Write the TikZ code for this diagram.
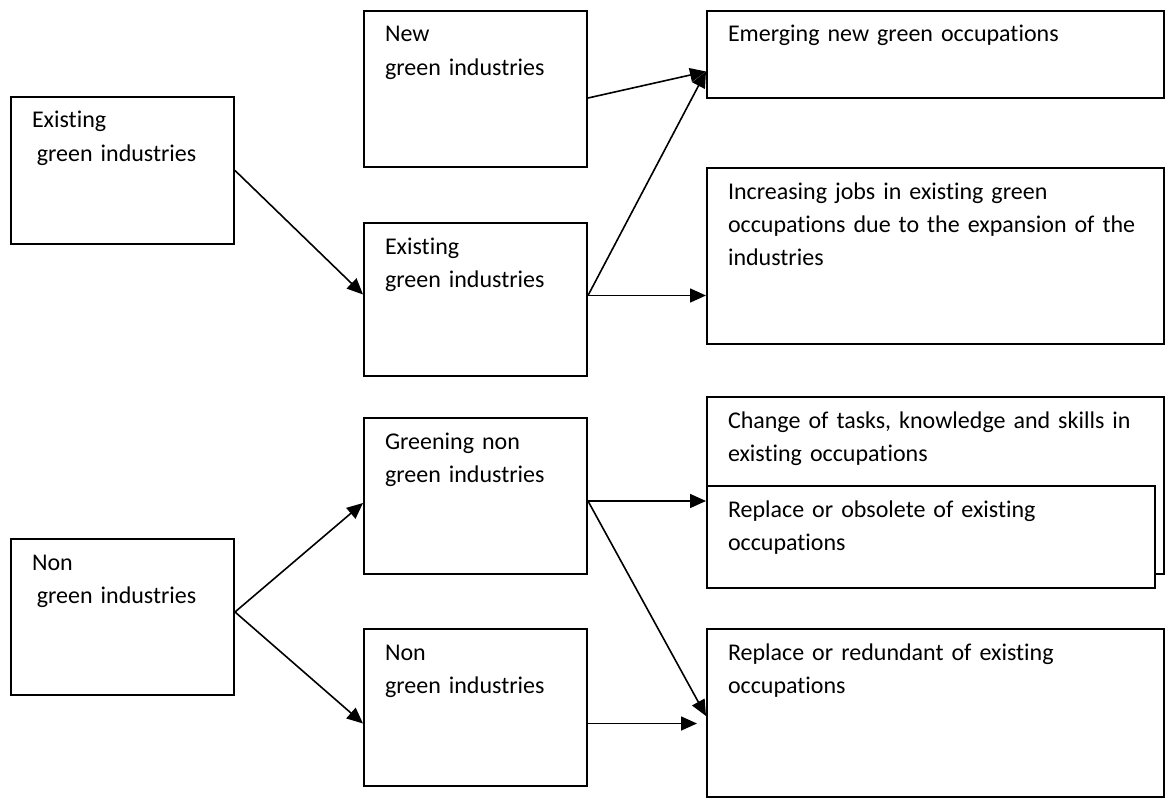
\documentclass[tikz,border=0pt]{standalone}
\usepackage{fontspec}
\setmainfont{Carlito}[Ligatures={NoCommon,NoRequired,NoContextual}, WordSpace=0.85]
\usetikzlibrary{arrows.meta}
\tikzset{>={Triangle[length=16pt,width=14pt]}}
\tikzset{box/.style={draw, line width=2pt, fill=white, anchor=north west, inner xsep=21pt, inner ysep=0pt, align=left, text height=31pt, font=\fontsize{24}{33}\selectfont}}

\begin{document}
\begin{tikzpicture}[x=1pt, y=-1pt]
    \useasboundingbox (0,0) rectangle (1165,800);
    \node[box, text width=181pt, text depth=116pt] (exgreen) at (10,96) {Existing\\\hspace*{0.2em}green industries};
    \node[box, text width=181pt, text depth=125pt] (newind) at (363,10) {New\\green industries};
    \node[box, text width=181pt, text depth=122pt] (exind) at (363,222) {Existing\\green industries};
    \node[box, text width=415pt, text depth=56pt] (emerging) at (706,10) {Emerging new green occupations};
    \node[box, text width=415pt, text depth=145pt] (increasing) at (706,167) {Increasing jobs in existing green\\occupations due to the expansion of the\\industries};
    \node[box, text width=181pt, text depth=125pt] (nongreen) at (10,538) {Non\\\hspace*{0.2em}green industries};
    \node[box, text width=181pt, text depth=125pt] (greening) at (363,417) {Greening non\\green industries};
    \node[box, text width=181pt, text depth=126pt] (nonind) at (363,628) {Non\\green industries};
    \node[box, text width=415pt, text depth=146pt] (changetasks) at (706,396) {Change of tasks, knowledge and skills in\\existing occupations};
    \node[box, text width=406pt, text depth=71pt] (obsolete) at (706,485) {Replace or obsolete of existing\\occupations};
    \node[box, text width=415pt, text depth=137pt] (redundant) at (706,628) {Replace or redundant of existing\\occupations};

    \coordinate (emin) at ([yshift=-17pt]emerging.west);
    \coordinate (exout) at ([yshift=4pt]exind.east);
    \coordinate (grout) at ([yshift=-5pt]greening.east);
    \coordinate (nonout) at ([yshift=-16pt]nonind.east);

    \draw[line width=1.6pt, ->] (exgreen.east) -- ([yshift=5pt]exind.west);
    \draw[line width=1.6pt, ->] ([yshift=-9pt]newind.east) -- (emin);
    \draw[line width=1.6pt, ->] (exout) -- (emin);
    \draw[line width=1.6pt, ->] (exout) -- (exout -| increasing.west);
    \draw[line width=1.6pt, ->] ([yshift=5pt]nongreen.east) -- ([yshift=-7pt]greening.west);
    \draw[line width=1.6pt, ->] ([yshift=5pt]nongreen.east) -- ([yshift=-16pt]nonind.west);
    \draw[line width=1.6pt, ->] (grout) -- (grout -| obsolete.west);
    \draw[line width=1.6pt, ->] (grout) -- ([yshift=-3pt]redundant.west);
    \draw[line width=1.6pt, ->, shorten >=9pt] (nonout) -- (nonout -| redundant.west);
\end{tikzpicture}
\end{document}
